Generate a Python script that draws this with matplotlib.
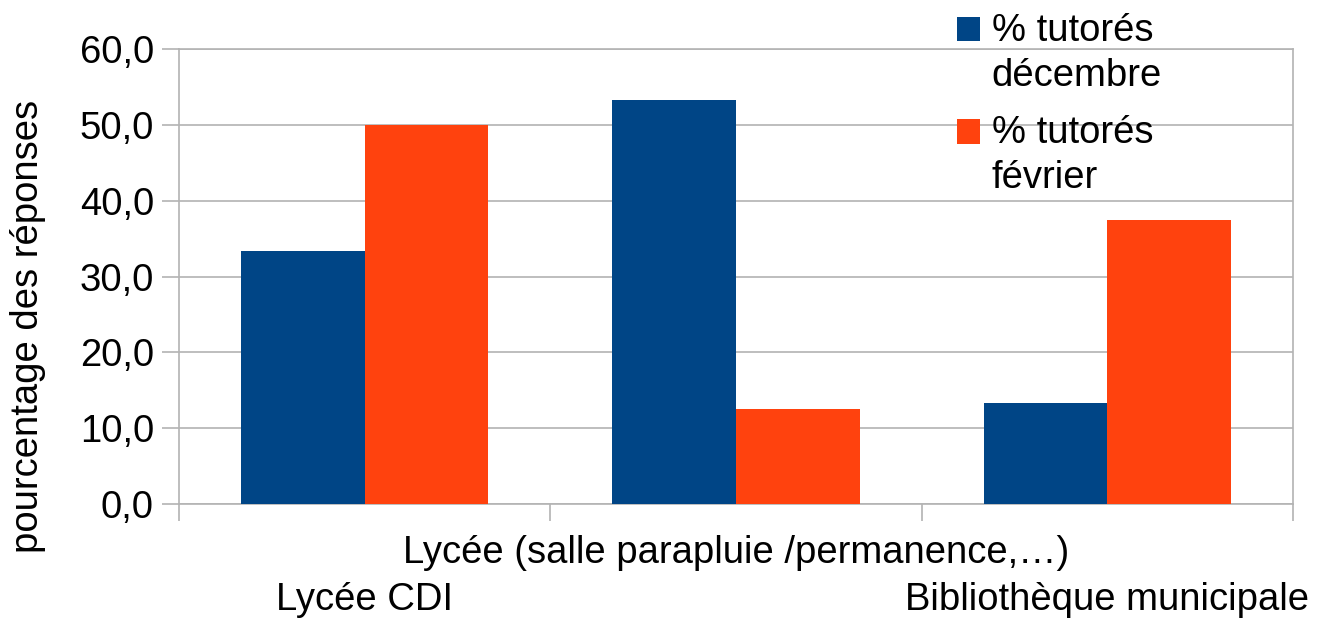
import matplotlib
matplotlib.use("Agg")
import matplotlib.pyplot as plt
from matplotlib.patches import Rectangle
from matplotlib.container import BarContainer
from matplotlib.legend_handler import HandlerPatch, update_from_first_child
import numpy as np

categories = ["Lycée CDI", "Lycée (salle parapluie /permanence,…)", "Bibliothèque municipale"]
dec_values = [33.3, 53.3, 13.3]
fev_values = [50.0, 12.5, 37.5]
series_labels = ["% tutorés\ndécembre", "% tutorés\nfévrier"]
yticks = [0, 10, 20, 30, 40, 50, 60]
ytick_labels = ["0,0", "10,0", "20,0", "30,0", "40,0", "50,0", "60,0"]

BLUE = "#004586"
ORANGE = "#ff420e"
GRID = "#b3b3b3"
FS = 27.5

plt.rcParams['font.family'] = ['Liberation Sans', 'DejaVu Sans']

fig = plt.figure(figsize=(13.18, 6.23), dpi=100)
ax = fig.add_axes([179/1318, 1-504/623, (1293-179)/1318, (504-49)/623])

x = np.arange(len(categories))
w = 1/3
ax.bar(x - w/2, dec_values, width=w, color=BLUE, label=series_labels[0], zorder=3)
ax.bar(x + w/2, fev_values, width=w, color=ORANGE, label=series_labels[1], zorder=3)

ax.set_xlim(-0.5, len(categories) - 0.5)
ax.set_ylim(0, 60)
ax.set_yticks(yticks)
ax.set_yticklabels(ytick_labels, fontsize=FS)
ax.yaxis.grid(True, color=GRID, linewidth=1.2, zorder=0)

# boundary ticks (major) and label ticks (minor)
ax.set_xticks(np.arange(len(categories) + 1) - 0.5)
ax.set_xticklabels([])
ax.set_xticks(x, minor=True)
ax.set_xticklabels(categories, minor=True, fontsize=FS)
ax.tick_params(axis='x', which='major', length=12, color=GRID, width=1.2)
ax.tick_params(axis='x', which='minor', length=0)
for i, t in enumerate(ax.xaxis.get_minor_ticks()):
    t.set_pad(56 if i % 2 == 0 else 22)
ax.tick_params(axis='y', length=12, color=GRID, width=1.2, pad=6)

for s in ax.spines.values():
    s.set_color(GRID)
    s.set_linewidth(1.2)

ax.set_ylabel("pourcentage des réponses", fontsize=FS)
ax.yaxis.set_label_coords(-0.119, 0.391)


def top_square(legend, orig_handle, xdescent, ydescent, width, height, fontsize):
    return Rectangle((-xdescent, -ydescent + 0.655 * fontsize), width, height)


hmap = {BarContainer: HandlerPatch(patch_func=top_square, update_func=update_from_first_child)}
leg = fig.legend(loc='upper left', bbox_to_anchor=(957/1318, 1-13/623), frameon=False,
                 fontsize=FS, handlelength=0.6, handleheight=0.6, handletextpad=0.31,
                 labelspacing=0.55, borderpad=0, borderaxespad=0, handler_map=hmap)
for t in leg.get_texts():
    t.set_linespacing(1.33)

fig.savefig("out.png", dpi=100)
